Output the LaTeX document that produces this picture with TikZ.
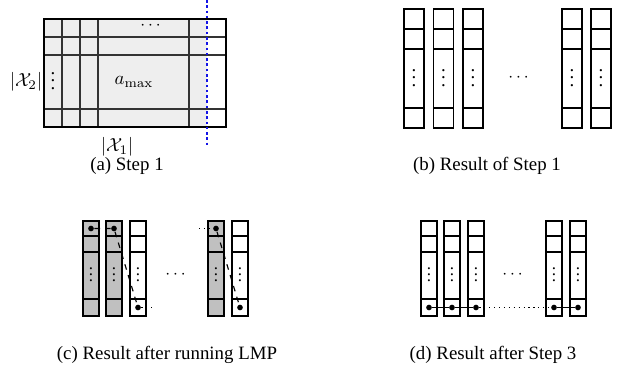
\documentclass[tikz,border=0pt]{standalone}
\usepackage[no-math]{fontspec}
\setmainfont{Liberation Serif}
\usepackage{amsmath}
\definecolor{cell}{RGB}{238, 238, 238}
\definecolor{lmpgray}{RGB}{192, 192, 192}
\definecolor{cut}{RGB}{20, 20, 230}
\newcommand{\vdts}[1][4pt]{\vbox{\baselineskip#1\lineskiplimit0pt\hbox{.}\hbox{.}\hbox{.}}}

\begin{document}
\begin{tikzpicture}[x=0.53pt, y=-0.53pt, line width=0.6pt,
  pt/.style={circle, fill, inner sep=0pt, minimum size=3pt},
  vd/.style={inner sep=0pt, font=\small}]

  \useasboundingbox (0, 0) rectangle (624, 379);

  % (a) Step 1
  \fill[cell] (44, 19) rectangle (207, 127);
  \foreach \x in {62, 80, 98, 189}
    \draw[gray!40!black] (\x, 19) -- (\x, 127);
  \foreach \y in {37, 55, 109}
    \draw[gray!40!black] (44, \y) -- (226, \y);
  \draw[line width=0.9pt] (44, 19) rectangle (226, 127);
  \draw[cut, line width=1.5pt, dash pattern=on 1.4pt off 1.4pt] (207, 0) -- (207, 145);
  \node[vd] (topdots) at (152, 26) {$\cdots$};
  \node[vd, font=\normalsize] (leftdots) at (53, 81) {\vdts};
  \node (amax) at (134, 82) {$a_{\max}$};
  \node (xtwo) at (26, 82) {$|\mathcal{X}_2|$};
  \node (xone) at (117, 147) {$|\mathcal{X}_1|$};
  \node (capa) at (127, 166) {(a) Step 1};

  % (b) Result of Step 1
  \foreach \x [count=\i] in {404, 433.5, 463, 562, 591} {
    \draw (\x, 9) rectangle +(20, 119);
    \foreach \y in {29, 49, 108}
      \draw (\x, \y) -- +(20, 0);
    \node[vd, font=\normalsize] (bdots\i) at (\x+10, 78) {\vdts};
  }
  \node[vd] (bmid) at (520, 78) {$\cdots$};
  \node (capb) at (487, 166) {(b) Result of Step 1};

  % (c) Result after running LMP
  \foreach \x in {83, 106, 208}
    \fill[lmpgray] (\x, 221) rectangle +(16, 95);
  \foreach \x [count=\i] in {83, 106, 130, 208, 232} {
    \draw (\x, 221) rectangle +(16, 95);
    \foreach \y in {236, 252, 299}
      \draw (\x, \y) -- +(16, 0);
    \node[vd] (cdots\i) at (\x+8, 275) {\vdts[3.3pt]};
  }
  \node[vd] (cmid) at (177, 275) {$\cdots$};
  \node[pt] (c1) at (91, 228.5) {};
  \node[pt] (c2) at (114, 228.5) {};
  \node[pt] (c3) at (138, 307.5) {};
  \node[pt] (c4) at (216, 228.5) {};
  \node[pt] (c5) at (240, 307.5) {};
  \coordinate (cout) at (155, 307.5);
  \coordinate (cin) at (199, 228.5);
  \draw[dashed] (c1) -- (c2) -- (c3);
  \draw[dotted] (c3) -- (cout);
  \draw[dotted] (cin) -- (c4);
  \draw[dashed] (c4) -- (c5);
  \node (capc) at (167, 355) {(c) Result after running LMP};

  % (d) Result after Step 3
  \foreach \x [count=\i] in {421, 444, 468, 546, 570} {
    \draw (\x, 221) rectangle +(16, 95);
    \foreach \y in {236, 252, 299}
      \draw (\x, \y) -- +(16, 0);
    \node[vd] (ddots\i) at (\x+8, 275) {\vdts[3.3pt]};
    \node[pt] (d\i) at (\x+8, 307.5) {};
  }
  \node[vd] (dmid) at (514, 275) {$\cdots$};
  \draw (d1) -- (d2) -- (d3);
  \draw[dotted] (d3) -- (d4);
  \draw (d4) -- (d5);
  \node (capd) at (493, 355) {(d) Result after Step 3};

\end{tikzpicture}
\end{document}
